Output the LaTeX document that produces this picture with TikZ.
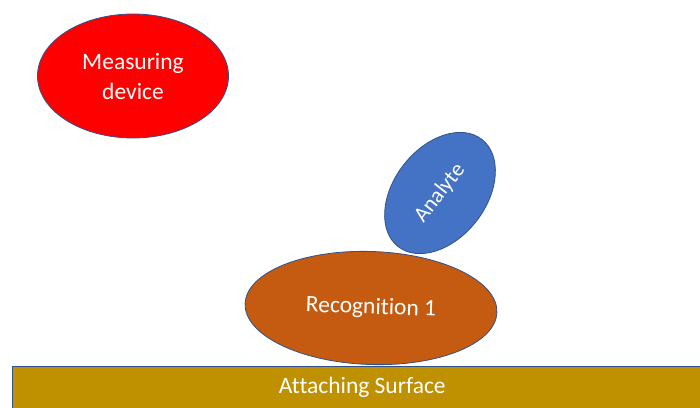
\documentclass[tikz,border=0pt]{standalone}
\usepackage{fontspec}
\setmainfont[Ligatures=NoCommon]{Carlito}
\usetikzlibrary{shapes.geometric}
\definecolor{mred}{HTML}{FF0000}
\definecolor{mblue}{HTML}{4472C4}
\definecolor{morange}{HTML}{C55A11}
\definecolor{mgold}{HTML}{BF9000}
\definecolor{medge}{HTML}{2F528F}
\tikzset{
  blob/.style={ellipse, draw=medge, line width=0.8pt, inner sep=0pt, text=white, font=\fontsize{23.5}{30}\selectfont, align=center},
}
\begin{document}
\begin{tikzpicture}[x=1pt,y=-1pt]
\useasboundingbox (0,0) rectangle (700,407);
\fill[white] (0,0) rectangle (700,407);
\node[blob, fill=mred, minimum width=191pt, minimum height=124pt] (meas) at (133,76) {Measuring\\device};
\node[blob, fill=morange, minimum width=252pt, minimum height=113pt, rotate=-2] (rec) at (371,308) {\raisebox{-3pt}{Recognition 1}};
\node[blob, fill=mblue, minimum width=136pt, minimum height=92pt, rotate=52, font=\fontsize{22}{26}\selectfont] (ana) at (440,193) {Analyte};
\node[draw=medge, line width=0.6pt, fill=mgold, minimum width=690pt, minimum height=42pt, inner sep=0pt, anchor=north west, text=white, font=\fontsize{23.5}{28}\selectfont] (surf) at (12,366) {\hspace*{10pt}Attaching Surface};
\end{tikzpicture}
\end{document}
